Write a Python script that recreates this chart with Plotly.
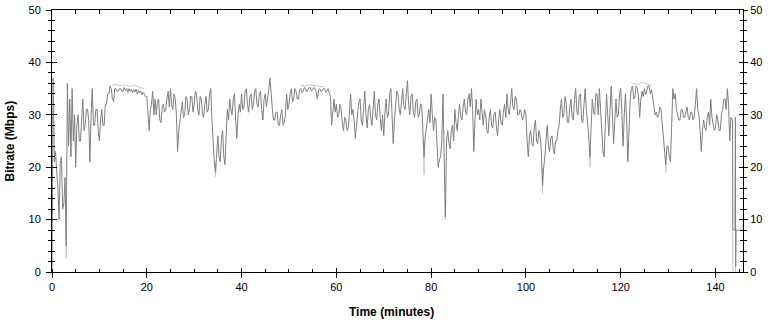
import plotly.graph_objects as go

# ---- data ----
step_min = 0.25  # sampling interval of the main series, minutes
bitrate_main = [
    0, 37, 21, 23, 19, 16, 10, 21, 22, 12, 13, 18, 5, 36, 24, 33, 22, 35, 25, 30,                      # 0-5
    20, 28, 30, 25, 25, 29, 33, 27, 28, 31, 31, 29, 21, 30, 35, 28, 28, 31, 31, 27,                     # 5-10
    25, 29, 31, 28, 28, 32, 32, 34, 34, 35.5, 35, 33, 32.5, 35, 35, 34.5, 34.5, 35, 35, 34.5,           # 10-15
    34.5, 35.2, 34.6, 35, 34.3, 35, 34.5, 34.9, 34.2, 34.8, 34.4, 34.9, 34, 34.6, 34.2, 34.5, 33.8, 34.3, 33.9, 33.5,  # 15-20
    33.5, 30, 27, 31, 32, 34.5, 30, 33, 30, 32.5, 33, 29, 28.5, 31.5, 32, 30.5, 31, 33, 34.5, 31.5,     # 20-25
    35, 32, 31, 34, 33, 30, 23, 27, 29, 31, 32.5, 29.5, 30, 33.5, 33, 30, 31, 33.5, 33.5, 30.5,         # 25-30
    32, 34.5, 34, 31, 30, 33.5, 33, 30, 29.5, 32, 33.5, 30.5, 31, 34, 35, 29, 24, 21, 19, 23,           # 30-35
    26, 22, 21, 25.5, 27, 22, 20.5, 26, 31, 29, 33, 31, 30, 33, 34, 29, 25.5, 30, 32, 30.5,             # 35-40
    34, 31, 31.5, 34.5, 35, 32, 30.5, 33.5, 34, 31, 32, 34.5, 35, 32, 31.5, 34, 34.5, 31, 29, 33,       # 40-45
    34, 31.5, 33, 35, 37, 33, 31, 29, 29, 30.5, 30.5, 28, 28, 30, 31, 28, 28.5, 30, 34, 31,             # 45-50
    32, 34, 35, 32.5, 33, 35, 34.5, 33, 33, 34.8, 35, 34.2, 34.5, 35.2, 35, 34.4, 34.8, 35.2, 35.2, 34.5,  # 50-55
    34.8, 35.2, 35, 34.3, 33, 34.8, 35, 34.4, 34.6, 35, 35, 34.3, 34.5, 35, 34.2, 33.5, 28, 31, 33, 30.5,  # 55-60
    32, 29.5, 30, 32, 31, 28.5, 27, 29.5, 29, 27, 27.5, 30, 34, 30, 31, 29, 25.5, 28, 30, 32.5,         # 60-65
    33, 29, 28, 31.5, 34.5, 30, 27.5, 31, 32, 29.5, 28, 31, 34.5, 30, 29, 32, 33, 29.5, 27, 30,         # 65-70
    26, 30.5, 33, 29.5, 30, 34, 35, 30, 24.5, 29, 32, 34.5, 34, 31, 30, 33, 35, 31.5, 31, 34,           # 70-75
    36.5, 32, 30, 33.5, 34, 30.5, 29.5, 32.5, 33, 29.5, 30, 32, 32, 27, 22, 26, 28, 30, 31, 28.5,       # 75-80
    34, 30, 27, 29.5, 29, 24, 20, 21.5, 22, 25, 34, 22, 10.5, 25, 27, 24.5, 23.5, 27, 28, 25,           # 80-85
    31, 28.5, 27, 30, 32, 29.5, 29, 31.5, 33, 30.5, 30, 33, 34, 31.5, 35, 31, 23, 29, 33, 30,           # 85-90
    31, 29, 33, 30.5, 28, 31, 30, 27, 26.5, 29.5, 31, 28, 27.5, 30, 30.5, 28, 26, 29, 31, 28.5,         # 90-95
    28, 30.5, 32, 29.5, 34, 31, 30, 32.5, 35, 31.5, 31, 33.5, 33, 30, 30, 31, 30.5, 29, 29.5, 31,       # 95-100
    30, 25, 22, 26, 27, 24.5, 24, 27.5, 29, 25, 24.5, 27, 26, 23, 16.5, 20, 22, 25.5, 28, 24,           # 100-105
    23, 25.5, 26, 23.5, 22.5, 25, 25, 27, 28, 31, 33, 29.5, 30, 33.5, 32, 28.5, 28.5, 31.5, 33, 29.5,   # 105-110
    29, 33, 35, 30.5, 30, 33.5, 34, 29, 28.5, 32, 35, 31, 29, 26, 22, 28, 33, 30.5, 30, 34,             # 110-115
    34, 30, 35, 31, 27, 23, 22, 29, 34, 30, 26, 31, 35.5, 30, 24.5, 29, 33, 29.5, 30, 34,               # 115-120
    35, 30, 24, 30, 34, 29, 21, 27, 33, 35, 35.5, 33, 33.5, 35.5, 35, 33.5, 29.5, 33, 34.5, 33.5,       # 120-125
    35, 33.8, 34.5, 35.5, 35.5, 34, 34.8, 33, 31, 30, 30.5, 29.5, 30, 31.5, 31, 28, 26, 22, 20.5, 24,   # 125-130
    24, 22, 21, 28, 35, 33, 34, 31, 30, 29, 29, 31, 31, 29.5, 29.5, 30.5, 31.5, 29.5, 29, 30.5,         # 130-135
    30.5, 29, 29.5, 32, 35, 31, 30, 27, 23, 27, 29, 27.5, 27, 29.5, 30.5, 28, 33, 29.5, 28, 27,         # 135-140
    27.5, 30, 29, 27, 27, 30, 31, 33, 33, 31, 35, 32, 25, 29.5,                                         # 140-143.25
]
assert len(bitrate_main) == 574
tail_minutes = [143.6, 143.65, 144.1, 144.2, 144.25, 144.35, 145.8]
tail_bitrate = [29, 8, 8, 29.5, 1, 8, 8]

# lighter trace (raw peaks / troughs visible around the main line)
light_minutes = [12.5, 13.5, 14.5, 15.5, 16.5, 17.5, 18.5, 19.5, None,
                 2.9, 3.0, 3.1, None,
                 34.4, 34.5, 34.6, None,
                 52.5, 53.5, 54.5, 55.5, 56.5, 57.5, None,
                 78.4, 78.5, 78.6, None,
                 82.9, 83.0, 83.1, None,
                 103.4, 103.5, 103.6, None,
                 113.4, 113.5, 113.6, None,
                 122.5, 123.5, 124.5, 125.5, 126.5, None,
                 129.4, 129.5, 129.6, None,
                 143.65, 143.65, None,
                 144.25, 144.25, None,
                 145.6, 145.8]
light_bitrate = [35.6, 35.8, 35.5, 35.7, 35.4, 35.6, 35.2, 35.0, None,
                 10, 2.5, 8, None,
                 21, 18.2, 21, None,
                 35.6, 35.5, 35.7, 35.6, 35.5, 35.3, None,
                 25, 18.5, 25, None,
                 14, 10, 14, None,
                 20, 15, 20, None,
                 24, 20, 24, None,
                 36, 35.8, 36.2, 35.9, 35.6, None,
                 22, 19, 22, None,
                 8, 0, None,
                 2, 0, None,
                 8.5, 9.2]

x_ticks = [0, 20, 40, 60, 80, 100, 120, 140]
y_ticks = [0, 10, 20, 30, 40, 50]

main_minutes = [i * step_min for i in range(len(bitrate_main))] + tail_minutes
main_values = bitrate_main + tail_bitrate

fig = go.Figure()
fig.add_trace(go.Scatter(x=light_minutes, y=light_bitrate, mode="lines",
                         line=dict(color="#c8c8c8", width=1), connectgaps=False,
                         hoverinfo="skip", showlegend=False))
fig.add_trace(go.Scatter(x=main_minutes, y=main_values, mode="lines",
                         line=dict(color="#808080", width=1),
                         showlegend=False))
# empty traces so that the overlay axes (tick decorations) are drawn
for xa, ya in [("x2", "y2"), ("x3", "y3"), ("x3", "y4")]:
    fig.add_trace(go.Scatter(x=[None], y=[None], xaxis=xa, yaxis=ya,
                             mode="lines", showlegend=False, hoverinfo="skip"))

X_RANGE = [0, 145.8]
Y_RANGE = [0, 50]
tickfont = dict(family="Liberation Sans, Arial, sans-serif", size=11, color="black")

common_x = dict(range=X_RANGE, showgrid=False, zeroline=False, fixedrange=True,
                automargin=False)
common_y = dict(range=Y_RANGE, showgrid=False, zeroline=False, fixedrange=True,
                automargin=False)

fig.update_layout(
    template="none",
    width=772, height=320,
    margin=dict(l=52, r=29, t=10, b=48, autoexpand=False),
    paper_bgcolor="white", plot_bgcolor="white",
    xaxis=dict(**common_x, tickvals=x_ticks, ticktext=[str(v) for v in x_ticks],
               ticks="outside", ticklen=5, tickcolor="black", tickwidth=1,
               showline=True, linecolor="black", linewidth=1,
               tickfont=tickfont,
               minor=dict(dtick=5, tick0=0, ticks="inside", ticklen=3,
                          tickcolor="black", tickwidth=1)),
    xaxis2=dict(**common_x, overlaying="x", side="bottom", anchor="y",
                tickvals=x_ticks, showticklabels=False, ticks="inside",
                ticklen=4, tickcolor="black", showline=False),
    xaxis3=dict(**common_x, overlaying="x", side="top", anchor="y", dtick=5,
                tick0=0, showticklabels=False, ticks="inside", ticklen=4,
                tickcolor="black", showline=True, linecolor="black"),
    yaxis=dict(**common_y, tickvals=y_ticks, ticks="outside", ticklen=5,
               tickcolor="black", showline=True, linecolor="black",
               tickfont=tickfont, ticklabelstandoff=3,
               minor=dict(dtick=2, tick0=0, ticks="outside", ticklen=3,
                          tickcolor="black")),
    yaxis2=dict(**common_y, overlaying="y", side="left", anchor="x",
                tickvals=y_ticks, showticklabels=False, ticks="inside",
                ticklen=5, tickcolor="black", showline=False,
                minor=dict(dtick=2, tick0=0, ticks="inside", ticklen=3,
                           tickcolor="black")),
    yaxis3=dict(**common_y, overlaying="y", side="right", anchor="x",
                tickvals=y_ticks, ticks="outside", ticklen=4,
                tickcolor="black", showline=True, linecolor="black",
                tickfont=tickfont,
                minor=dict(dtick=2, tick0=0, ticks="outside", ticklen=3,
                           tickcolor="black")),
    yaxis4=dict(**common_y, overlaying="y", side="right", anchor="x",
                tickvals=y_ticks, showticklabels=False, ticks="inside",
                ticklen=4, tickcolor="black", showline=False,
                minor=dict(dtick=2, tick0=0, ticks="inside", ticklen=3,
                           tickcolor="black")),
    annotations=[
        dict(text="<b>Time (minutes)</b>", xref="paper", yref="paper",
             x=0.4916, y=0, xanchor="center", yanchor="top", yshift=-31,
             showarrow=False,
             font=dict(family="Liberation Sans, Arial, sans-serif", size=12, color="black")),
        dict(text="<b>Bitrate (Mbps)</b>", xref="paper", yref="paper",
             x=0, y=0.5, xanchor="center", yanchor="middle", xshift=-42.5,
             textangle=-90, showarrow=False,
             font=dict(family="Liberation Sans, Arial, sans-serif", size=12, color="black")),
    ],
)

fig.write_html("out.html", config={"displayModeBar": False},
               post_script="document.body.style.margin='0px';")
